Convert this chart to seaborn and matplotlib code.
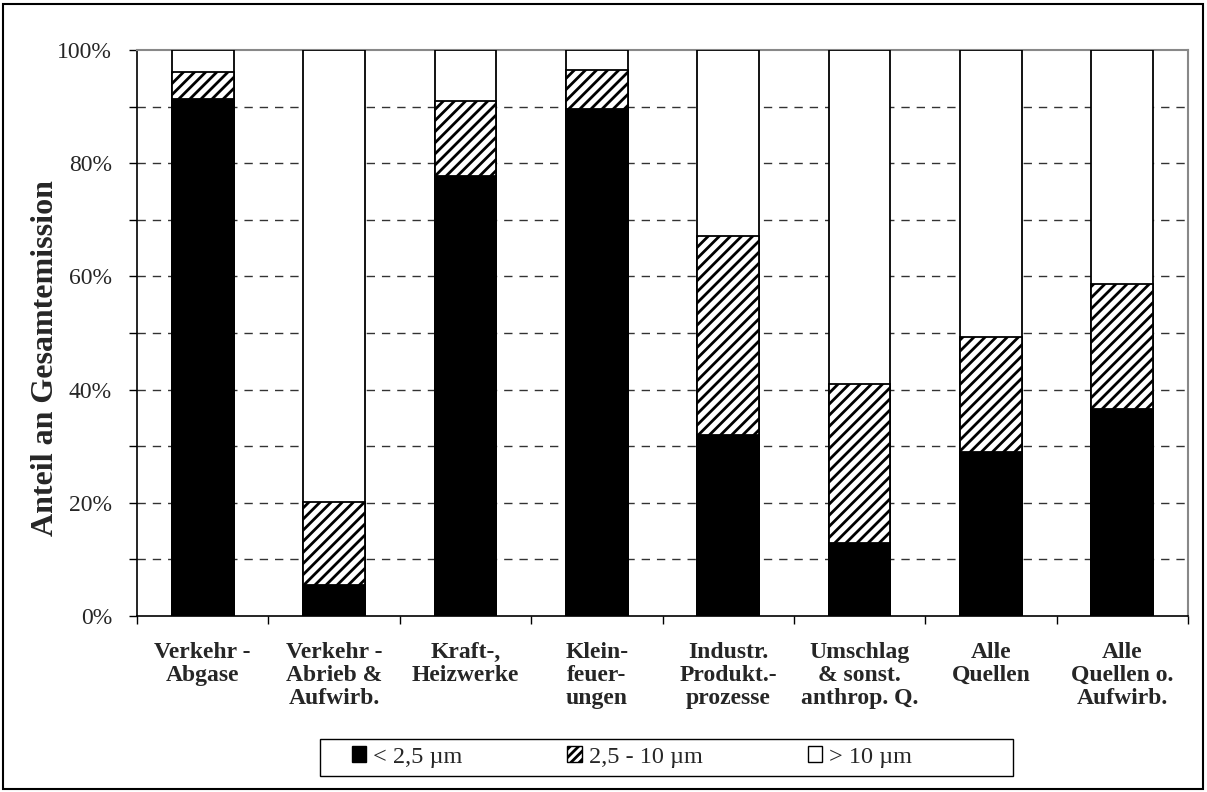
import matplotlib
matplotlib.use("Agg")
import matplotlib.pyplot as plt
import matplotlib.patches as mpatches
from matplotlib.ticker import FixedLocator, FuncFormatter
import seaborn as sns
import pandas as pd
import numpy as np

# Source categories and size-fraction shares (% of total emission)
categories = [
    "Verkehr -\nAbgase",
    "Verkehr -\nAbrieb &\nAufwirb.",
    "Kraft-,\nHeizwerke",
    "Klein-\nfeuer-\nungen",
    "Industr.\nProdukt.-\nprozesse",
    "Umschlag\n& sonst.\nanthrop. Q.",
    "Alle\nQuellen",
    "Alle\nQuellen o.\nAufwirb.",
]
pm_fine = [91.3, 5.5, 77.7, 89.6, 32.0, 12.9, 29.0, 36.6]      # < 2,5 µm
pm_coarse = [4.8, 14.6, 13.3, 6.9, 35.1, 28.1, 20.3, 22.1]     # 2,5 - 10 µm
pm_large = [100 - a - b for a, b in zip(pm_fine, pm_coarse)]   # > 10 µm

legend_labels = ["< 2,5 µm", "2,5 - 10 µm", "> 10 µm"]

df = pd.DataFrame({
    "Quelle": categories,
    "fine": pm_fine,
    "fine_coarse": np.array(pm_fine) + np.array(pm_coarse),
    "total": np.array(pm_fine) + np.array(pm_coarse) + np.array(pm_large),
})

sns.set_style("white")
plt.rcParams["font.family"] = ["Liberation Serif", "DejaVu Serif"]
plt.rcParams["hatch.linewidth"] = 2.0
plt.rcParams["hatch.color"] = "black"

W, H = 1207, 792
fig = plt.figure(figsize=(W / 100, H / 100), dpi=100)
ax = fig.add_axes([137 / W, 1 - 616 / H, (1188 - 137) / W, (616 - 50) / H])

width = 0.47
common = dict(data=df, x="Quelle", width=width, edgecolor="black",
              linewidth=1.3, ax=ax, zorder=3, saturation=1)
# stacked bars: full column, then fine+coarse (hatched), then fine on top
sns.barplot(y="total", color="white", **common)
sns.barplot(y="fine_coarse", color="white", hatch="///", **common)
sns.barplot(y="fine", color="black", **common)

ax.set_ylim(0, 100)
ax.set_xlim(-0.5, len(categories) - 0.5)

# dashed horizontal gridlines every 10 %
ax.yaxis.set_major_locator(FixedLocator(np.arange(0, 101, 20)))
ax.yaxis.set_minor_locator(FixedLocator(np.arange(10, 100, 20)))
ax.yaxis.set_major_formatter(FuncFormatter(lambda v, p: f"{int(v)}%"))
for yv in np.arange(10, 100, 10):
    ax.axhline(yv, color="#333333", lw=1.0, ls=(0, (6, 5)), zorder=1)

ax.tick_params(axis="y", which="both", direction="out", length=6, width=1,
               color="black", left=True, labelsize=17, pad=12)
ax.tick_params(axis="x", which="major", length=0, pad=19)
ax.set_xticks(np.arange(len(categories)))
ax.set_xticklabels(categories, fontsize=17, fontweight="bold", linespacing=1.1, va="top")
ax.set_xticks(np.arange(-0.5, len(categories) + 0.5, 1), minor=True)
ax.tick_params(axis="x", which="minor", direction="out", length=6, width=1,
               color="black", bottom=True)

ax.set_xlabel("")
ax.set_ylabel("Anteil an Gesamtemission", fontsize=23, fontweight="bold")
ax.yaxis.set_label_coords((60 - 137) / (1188 - 137), (616 - 358) / 566)

for side in ("left", "bottom"):
    ax.spines[side].set_color("black")
    ax.spines[side].set_linewidth(1.2)
for side in ("top", "right"):
    ax.spines[side].set_visible(True)
    ax.spines[side].set_color("#888888")
    ax.spines[side].set_linewidth(1.5)

handles = [
    mpatches.Patch(facecolor="black", edgecolor="black", label=legend_labels[0]),
    mpatches.Patch(facecolor="white", edgecolor="black", hatch="////", label=legend_labels[1]),
    mpatches.Patch(facecolor="white", edgecolor="black", label=legend_labels[2]),
]
leg = fig.legend(handles=handles, loc="center", ncol=3,
                 bbox_to_anchor=(632 / W, 1 - 757 / H),
                 frameon=False, fontsize=17.5,
                 handlelength=0.6, handleheight=0.6, handletextpad=0.3,
                 columnspacing=4.3, borderpad=0.2)

# legend frame
fig.patches.append(mpatches.Rectangle((320 / W, 1 - 776 / H), (1013 - 320) / W, 37 / H,
                                      transform=fig.transFigure, fill=False,
                                      edgecolor="black", linewidth=1.0))
# outer frame around the whole figure
fig.patches.append(mpatches.Rectangle((3 / W, 3 / H), 1 - 7 / W, 1 - 7 / H,
                                      transform=fig.transFigure, fill=False,
                                      edgecolor="black", linewidth=1.5))

fig.savefig("out.png", dpi=100, facecolor="white")
